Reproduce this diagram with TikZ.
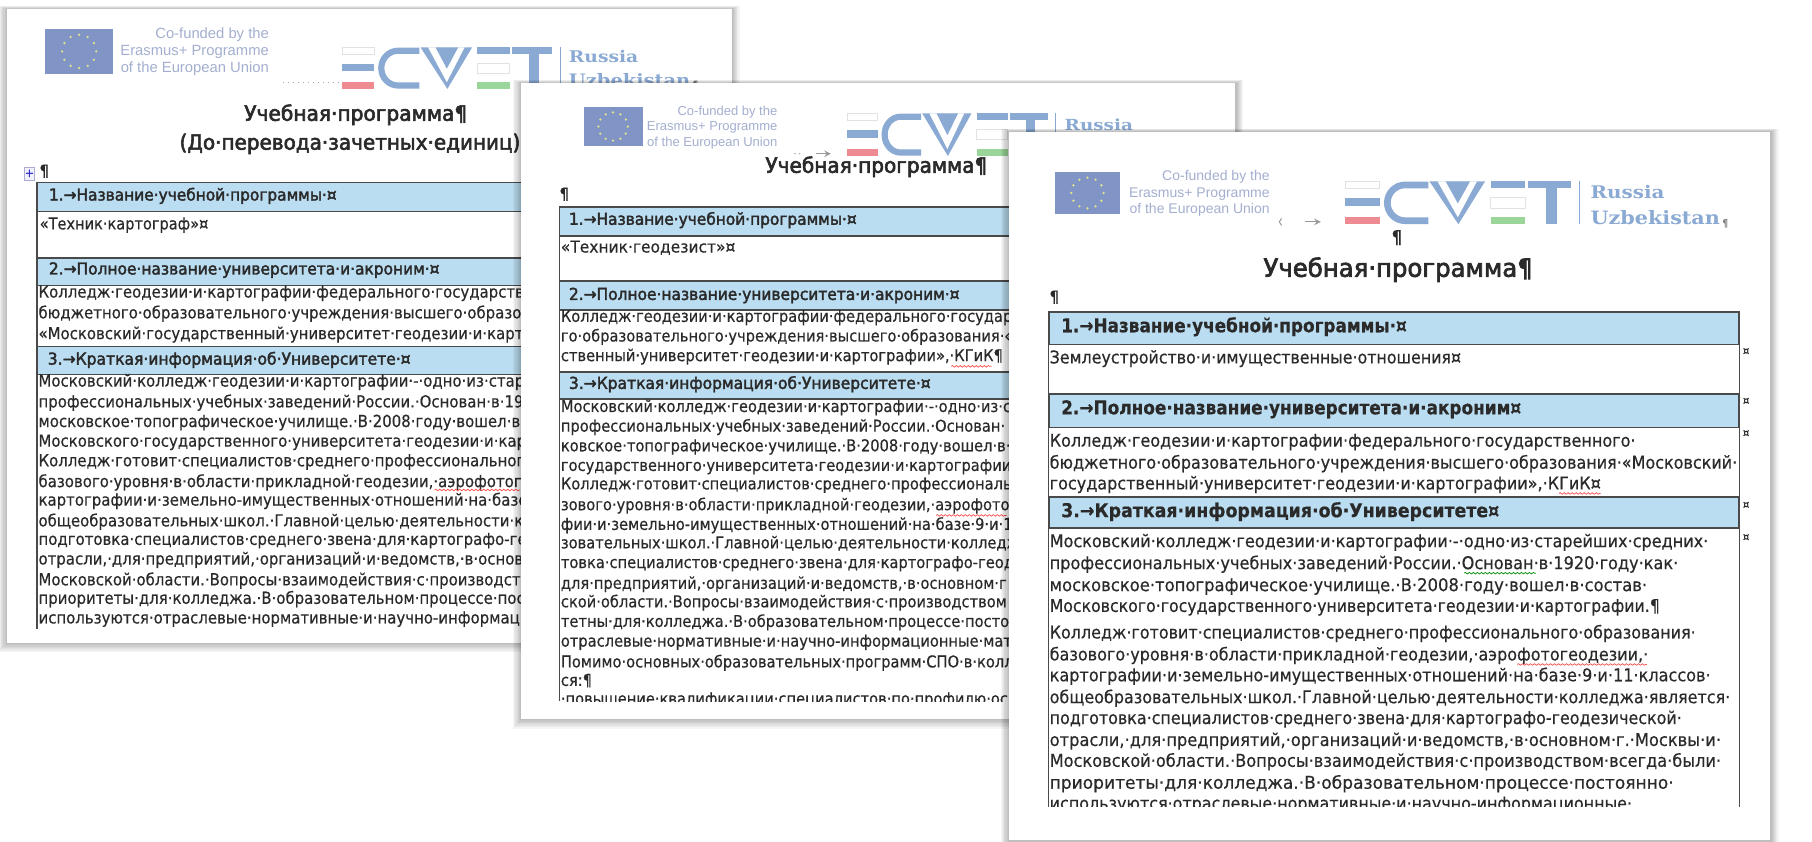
\documentclass[tikz,border=0pt]{standalone}
\usepackage{fontspec}
\usepackage{graphicx}
\usetikzlibrary{decorations.pathmorphing}
\setmainfont[FakeBold=0.4]{DejaVu Sans Condensed}
\newfontfamily\hfont[FakeBold=2.2]{DejaVu Sans Condensed}
\newfontfamily\mfont[FakeBold=2.6]{DejaVu Sans Condensed}
\newfontfamily\eufont{Liberation Sans}
\newfontfamily\rufont{DejaVu Serif}
\definecolor{barblue}{HTML}{BBDDF1}
\definecolor{rule}{HTML}{4A4A4A}
\definecolor{ink}{HTML}{2A2A2A}
\definecolor{flag}{HTML}{8095C6}
\definecolor{star}{HTML}{E4E48C}
\definecolor{eutext}{HTML}{A4AFD0}
\definecolor{logoblue}{HTML}{8AAAD4}
\definecolor{logored}{HTML}{EE8A92}
\definecolor{logogreen}{HTML}{9AD69A}
\definecolor{logoedge}{HTML}{E2E2E2}
\tikzset{
  txt/.style={anchor=base west,inner sep=0pt,text=ink},
  hbar/.style={fill=barblue,draw=rule,line width=0.8pt},
  frame/.style={draw=rule,line width=0.7pt},
  wavy/.style={decorate,decoration={snake,amplitude=0.4pt,segment length=2pt},line width=0.35pt},
  logotxt/.style={anchor=base west,inner sep=0pt,text=logoblue},
}
\newcommand{\FL}[5][\normalfont]{% fit: x y xend text
  \node[txt] at (#2,#3+3.5) {\resizebox{\dimexpr(#4pt-#2pt)*5778/10000\relax}{\height}{#1\strut #5}};}
\newcommand{\LG}[5]{% logo text: x baseline xend height text
  \node[logotxt] at (#1,#2) {\resizebox{\dimexpr(#3pt-#1pt)*5778/10000\relax}{#4}{\rufont\bfseries #5}};}
\newcommand{\TL}[3]{\node[txt] at (#1,#2+3.5) {#3};}
\newcommand{\docpage}[4]{%
  \foreach \s in {1,...,7}{\fill[black,opacity=0.04] (#1-\s,#2-\s*0.4) rectangle (#3+\s,#4+\s*1.2);}
  \fill[white] (#1,#2) rectangle (#3,#4);}
% x0 y0 x1 y1 rightx y1 y2 y3 size
\newcommand{\euflag}[9]{%
  \fill[flag] (#1,#2) rectangle (#3,#4);
  \foreach \a in {0,30,...,330}{\fill[star] ({(#1+#3)/2+0.25*(#3-#1)*cos(\a)},{(#2+#4)/2+0.37*(#4-#2)*sin(\a)}) circle (1.1);}
  \begin{scope}[font=\eufont\fontsize{#9}{#9}\selectfont]
  \node[anchor=base east,inner sep=0,text=eutext] at (#5,#6+3) {Co-funded by the};
  \node[anchor=base east,inner sep=0,text=eutext] at (#5,#7+3) {Erasmus+ Programme};
  \node[anchor=base east,inner sep=0,text=eutext] at (#5,#8+3) {of the European Union};
  \end{scope}}
% x y xscale yscale lw
\newcommand{\ecvet}[5]{%
  \begin{scope}[shift={(#1,#2)},xscale=#3,yscale=#4]
  \draw[logoedge,fill=white,line width=0.5pt] (0,0) rectangle (30,6.5);
  \fill[logoblue] (0,14.5) rectangle (30,21);
  \fill[logored] (0,31) rectangle (30,37);
  \draw[logoblue,line width=#5] (72,3) -- (52,3) arc[start angle=270,delta angle=-180,radius=15.5] -- (72,34);
  \fill[logoblue] (73,0) -- (121,0) -- (98,37) -- cycle;
  \fill[white] (80,0) -- (114,0) -- (97.5,31) -- cycle;
  \fill[logoblue] (87,0) -- (108,0) -- (97.5,19) -- cycle;
  \fill[logoblue] (126,0) rectangle (156,6);
  \draw[logoedge,fill=white,line width=0.5pt] (126,14) rectangle (156,23);
  \fill[logogreen] (126,31) rectangle (156,37);
  \fill[logoblue] (158,0) rectangle (195,6);
  \fill[logoblue] (174,0) rectangle (183,37);
  \draw[logoblue,line width=0.6pt] (203,0) -- (203,37);
  \end{scope}}
\begin{document}
\begin{tikzpicture}[x=0.5778pt,y=-0.5778pt]
\useasboundingbox (0,0) rectangle (1568,728.6);
\fill[white] (0,0) rectangle (1568,728.6);

%%%%%%%%%%%% DOC 1
\docpage{6}{8}{633}{556}
\euflag{39}{25}{98}{64}{233}{30}{45}{60}{7.4}
\ecvet{296}{41}{0.93}{0.97}{3.1pt}
\LG{492}{54}{552}{6.1pt}{Russia}
\LG{492}{75}{597}{6.5pt}{Uzbekistan}
\node[txt,text=gray,font=\fontsize{5}{5}\selectfont] at (599,76) {¶};
\draw[gray!70,dotted,line width=0.5pt] (245,71) -- (296,71);
\FL[\mfont]{211}{101}{404}{\fontsize{10.5}{12}\selectfont Учебная·программа¶}
\FL[\mfont]{155}{126}{450}{\fontsize{10.5}{12}\selectfont (До·перевода·зачетных·единиц)}
\draw[blue!30!gray!50,fill=blue!5] (21,145) rectangle (30,156);
\node[inner sep=0,text=blue!60!gray,font=\fontsize{6}{6}\selectfont] at (25.5,150) {+};
\TL{34}{149}{\fontsize{8}{8}\selectfont\bfseries ¶}
\path[hbar] (32,158) rectangle (620,183);
\path[hbar] (32,223) rectangle (620,247);
\path[hbar] (32,300) rectangle (620,324);
\draw[frame] (32,183) -- (32,544) (32,223) -- (620,223);
\FL[\hfont]{42}{170}{291}{\fontsize{8.2}{10}\selectfont 1.→Название·учебной·программы·¤}
\FL[\normalfont]{34}{195}{180}{\fontsize{8.2}{10}\selectfont «Техник·картограф»¤}
\FL[\hfont]{42}{234}{380}{\fontsize{8.2}{10}\selectfont 2.→Полное·название·университета·и·акроним·¤}
\FL[\hfont]{41}{312}{355}{\fontsize{8.2}{10}\selectfont 3.→Краткая·информация·об·Университете·¤}
\begin{scope}[font=\fontsize{8.3}{10}\selectfont]
\TL{33}{254}{Колледж·геодезии·и·картографии·федерального·государств}
\TL{33}{272}{бюджетного·образовательного·учреждения·высшего·образов}
\TL{33}{290}{«Московский·государственный·университет·геодезии·и·карто}
\TL{33}{331}{Московский·колледж·геодезии·и·картографии·-·одно·из·стар}
\TL{33}{349}{профессиональных·учебных·заведений·России.·Основан·в·19}
\TL{33}{366}{московское·топографическое·училище.·В·2008·году·вошел·в·}
\TL{33}{383}{Московского·государственного·университета·геодезии·и·карт}
\TL{33}{400}{Колледж·готовит·специалистов·среднего·профессионального}
\TL{33}{418}{базового·уровня·в·области·прикладной·геодезии,·аэрофотоге}
\TL{33}{434}{картографии·и·земельно-имущественных·отношений·на·базе}
\TL{33}{452}{общеобразовательных·школ.·Главной·целью·деятельности·ко}
\TL{33}{468}{подготовка·специалистов·среднего·звена·для·картографо-гео}
\TL{33}{485}{отрасли,·для·предприятий,·организаций·и·ведомств,·в·основ}
\TL{33}{503}{Московской·области.·Вопросы·взаимодействия·с·производств}
\TL{33}{519}{приоритеты·для·колледжа.·В·образовательном·процессе·пос}
\TL{33}{536}{используются·отраслевые·нормативные·и·научно-информаци}
\end{scope}
\draw[red!70,wavy] (376,424) -- (450,424);

%%%%%%%%%%%% DOC 2
\docpage{451}{72}{1069}{622}
\euflag{505}{93}{556}{126}{673}{97}{110}{124}{6.5}
\ecvet{733}{98}{0.89}{1}{3.1pt}
\LG{921}{113}{980}{5.8pt}{Russia}
\fill[gray!70] (688,133) circle (0.7) (692,133) circle (0.7);
\draw[gray!80,line width=0.5pt,-stealth] (706,133) -- (719,133);
\FL[\mfont]{662}{146}{854}{\fontsize{10.5}{12}\selectfont Учебная·программа¶}
\TL{484}{169}{\fontsize{8}{8}\selectfont\bfseries ¶}
\path[hbar] (484,179) rectangle (1060,204);
\path[hbar] (484,243) rectangle (1060,268);
\path[hbar] (484,322) rectangle (1060,345);
\draw[frame] (484,204) -- (484,607);
\FL[\hfont]{492}{191}{741}{\fontsize{8.2}{10}\selectfont 1.→Название·учебной·программы·¤}
\FL[\normalfont]{485}{215}{636}{\fontsize{8.2}{10}\selectfont «Техник·геодезист»¤}
\FL[\hfont]{492}{256}{830}{\fontsize{8.2}{10}\selectfont 2.→Полное·название·университета·и·акроним·¤}
\FL[\hfont]{492}{333}{805}{\fontsize{8.2}{10}\selectfont 3.→Краткая·информация·об·Университете·¤}
\begin{scope}[font=\fontsize{8.15}{10}\selectfont]
\TL{485}{275}{Колледж·геодезии·и·картографии·федерального·государ}
\TL{485}{292}{го·образовательного·учреждения·высшего·образования·«}
\TL{485}{309}{ственный·университет·геодезии·и·картографии»,·КГиК¶}
\TL{485}{353}{Московский·колледж·геодезии·и·картографии·-·одно·из·с}
\TL{485}{370}{профессиональных·учебных·заведений·России.·Основан·}
\TL{485}{387}{ковское·топографическое·училище.·В·2008·году·вошел·в·}
\TL{485}{404}{государственного·университета·геодезии·и·картографии.}
\TL{485}{420}{Колледж·готовит·специалистов·среднего·профессиональ}
\TL{485}{438}{зового·уровня·в·области·прикладной·геодезии,·аэрофото}
\TL{485}{455}{фии·и·земельно-имущественных·отношений·на·базе·9·и·1}
\TL{485}{471}{зовательных·школ.·Главной·целью·деятельности·колледж}
\TL{485}{488}{товка·специалистов·среднего·звена·для·картографо-геод}
\TL{485}{506}{для·предприятий,·организаций·и·ведомств,·в·основном·г}
\TL{485}{522}{ской·области.·Вопросы·взаимодействия·с·производством}
\TL{485}{539}{тетны·для·колледжа.·В·образовательном·процессе·постоя}
\TL{485}{556}{отраслевые·нормативные·и·научно-информационные·мат}
\TL{485}{574}{Помимо·основных·образовательных·программ·СПО·в·колл}
\TL{485}{590}{ся:¶}
\begin{scope}
\clip (480,596) rectangle (900,607);
\TL{485}{606}{·повышение·квалификации·специалистов·по·профилю·ос}
\end{scope}
\end{scope}
\draw[red!70,wavy] (823,317) -- (858,317);
\draw[red!70,wavy] (810,446) -- (871,446);

%%%%%%%%%%%% DOC 3
\docpage{873}{114}{1532}{727}
\euflag{913}{149}{969}{185}{1099}{153}{168}{182}{7}
\ecvet{1164}{157}{1}{1}{3.35pt}
\LG{1376}{171.5}{1440}{6.6pt}{Russia}
\LG{1376}{194.5}{1488}{7pt}{Uzbekistan}
\node[txt,text=gray,font=\fontsize{5}{5}\selectfont] at (1490,196) {¶};
\draw[gray!80,line width=0.5pt] (1109,189) -- (1107,192) -- (1109,195);
\draw[gray!80,line width=0.5pt,-stealth] (1129,192) -- (1143,192);
\TL{1204}{207}{\fontsize{9}{9}\selectfont\bfseries ¶}
\FL[\mfont]{1093}{236}{1326}{\fontsize{12.5}{14}\selectfont Учебная·программа¶}
\TL{908}{258}{\fontsize{8}{8}\selectfont\bfseries ¶}
\path[hbar] (907.5,270) rectangle (1505,298);
\path[hbar] (907.5,341) rectangle (1505,370);
\path[hbar] (907.5,430) rectangle (1505,457);
\draw[frame] (907.5,298) -- (907.5,698) (1505,298) -- (1505,698);
\FL[\bfseries]{918}{284}{1217}{\fontsize{9.5}{11}\selectfont 1.→Название·учебной·программы·¤}
\FL[\normalfont]{908}{311}{1264}{\fontsize{8.8}{10}\selectfont Землеустройство·и·имущественные·отношения¤}
\FL[\bfseries]{918}{355}{1316}{\fontsize{9.5}{11}\selectfont 2.→Полное·название·университета·и·акроним¤}
\FL[\bfseries]{918}{444}{1297}{\fontsize{9.5}{11}\selectfont 3.→Краткая·информация·об·Университете¤}
\FL{908}{383}{1415}{\fontsize{8.8}{10}\selectfont Колледж·геодезии·и·картографии·федерального·государственного·}
\FL{908}{402}{1503}{\fontsize{8.8}{10}\selectfont бюджетного·образовательного·учреждения·высшего·образования·«Московский·}
\FL{908}{420}{1385}{\fontsize{8.8}{10}\selectfont государственный·университет·геодезии·и·картографии»,·КГиК¤}
\FL{908}{470}{1478}{\fontsize{8.8}{10}\selectfont Московский·колледж·геодезии·и·картографии·-·одно·из·старейших·средних·}
\FL{908}{489}{1452}{\fontsize{8.8}{10}\selectfont профессиональных·учебных·заведений·России.·Основан·в·1920·году·как·}
\FL{908}{508}{1425}{\fontsize{8.8}{10}\selectfont московское·топографическое·училище.·В·2008·году·вошел·в·состав·}
\FL{908}{526}{1436}{\fontsize{8.8}{10}\selectfont Московского·государственного·университета·геодезии·и·картографии.¶}
\FL{908}{549}{1467}{\fontsize{8.8}{10}\selectfont Колледж·готовит·специалистов·среднего·профессионального·образования·}
\FL{908}{568}{1426}{\fontsize{8.8}{10}\selectfont базового·уровня·в·области·прикладной·геодезии,·аэрофотогеодезии,·}
\FL{908}{586}{1480}{\fontsize{8.8}{10}\selectfont картографии·и·земельно-имущественных·отношений·на·базе·9·и·11·классов·}
\FL{908}{605}{1497}{\fontsize{8.8}{10}\selectfont общеобразовательных·школ.·Главной·целью·деятельности·колледжа·является·}
\FL{908}{623}{1455}{\fontsize{8.8}{10}\selectfont подготовка·специалистов·среднего·звена·для·картографо-геодезической·}
\FL{908}{642}{1489}{\fontsize{8.8}{10}\selectfont отрасли,·для·предприятий,·организаций·и·ведомств,·в·основном·г.·Москвы·и·}
\FL{908}{660}{1489}{\fontsize{8.8}{10}\selectfont Московской·области.·Вопросы·взаимодействия·с·производством·всегда·были·}
\FL{908}{679}{1448}{\fontsize{8.8}{10}\selectfont приоритеты·для·колледжа.·В·образовательном·процессе·постоянно·}
\begin{scope}
\clip (900,686) rectangle (1510,698);
\FL{908}{697}{1412}{\fontsize{8.8}{10}\selectfont используются·отраслевые·нормативные·и·научно-информационные·}
\end{scope}
\foreach \yy in {304,347,375,437,465}{\node[inner sep=0,text=ink,font=\fontsize{5.5}{6}\selectfont] at (1511,\yy) {¤};}
\draw[red!70,wavy] (1349,427) -- (1385,427);
\draw[red!70,wavy] (1313,575) -- (1425,575);
\draw[green!55!black,wavy] (1267,496) -- (1329,496);
\end{tikzpicture}
\end{document}
